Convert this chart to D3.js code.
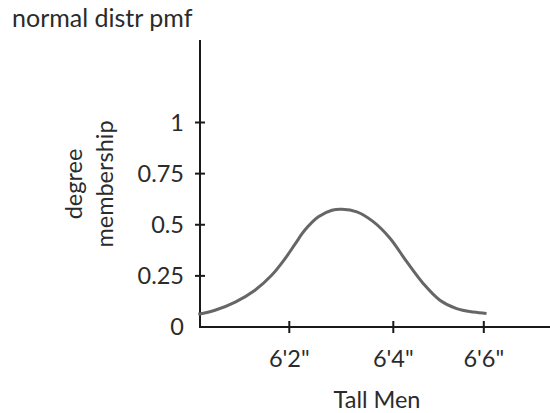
<!DOCTYPE html>
<html>
<head>
<meta charset="utf-8">
<script src="https://cdn.jsdelivr.net/npm/d3@7"></script>
<style>
  html, body { margin: 0; padding: 0; background: #fff; }
  svg { display: block; }
  text { font-family: Lato, "Open Sans", sans-serif; fill: #2b2b2b; }
</style>
</head>
<body>
<svg id="chart" width="550" height="413"></svg>
<script>
// Heights in inches, with membership degree along the curve
const heights = [72.25, 72.57, 72.96, 73.34, 73.66, 73.92, 74.11, 74.30, 74.56, 74.82,
                 75.01, 75.30, 75.62, 75.94, 76.30, 76.66, 77.03, 77.40, 77.77, 78.06];
const membership = [0.062, 0.082, 0.122, 0.180, 0.253, 0.335, 0.405, 0.474, 0.539, 0.571,
                    0.576, 0.563, 0.514, 0.433, 0.318, 0.213, 0.131, 0.090, 0.073, 0.066];

const xTickValues = [74, 76, 78];
const xTickLabels = ["6'2\"", "6'4\"", "6'6\""];
const yTickValues = [0, 0.25, 0.5, 0.75, 1];
const yTickLabels = ["0", "0.25", "0.5", "0.75", "1"];

const titleText = "normal distr pmf";
const xTitle = "Tall Men";
const yTitleLines = ["degree", "membership"];

const svg = d3.select("#chart");

const origin = { x: 200, y: 327 };
const axisTop = 40;
const axisRight = 550;
const fontSize = 23.5;

// piecewise height scale: the inch spacing is not uniform along the axis
const x = d3.scaleLinear()
  .domain([74, 76, 78])
  .range([289.3, 393.3, 483.8]);

const y = d3.scaleLinear()
  .domain([0, 1])
  .range([origin.y, 122.5]);

// title
svg.append("text")
  .attr("x", 12)
  .attr("y", 27)
  .attr("font-size", 25)
  .text(titleText);

// axis lines
svg.append("line")
  .attr("x1", origin.x).attr("x2", origin.x)
  .attr("y1", axisTop).attr("y2", origin.y + 1)
  .attr("stroke", "#1a1a1a").attr("stroke-width", 2);
svg.append("line")
  .attr("x1", origin.x - 1).attr("x2", axisRight)
  .attr("y1", origin.y).attr("y2", origin.y)
  .attr("stroke", "#1a1a1a").attr("stroke-width", 2);

// y ticks: short marks crossing the axis, labels to the left
const yg = svg.append("g");
yg.selectAll("line")
  .data(yTickValues.slice(1))
  .join("line")
  .attr("x1", origin.x - 5).attr("x2", origin.x + 5)
  .attr("y1", (d) => y(d)).attr("y2", (d) => y(d))
  .attr("stroke", "#1a1a1a").attr("stroke-width", 2);
yg.selectAll("text")
  .data(yTickValues)
  .join("text")
  .attr("x", 184)
  .attr("y", (d) => y(d))
  .attr("dy", "0.36em")
  .attr("text-anchor", "end")
  .attr("font-size", fontSize)
  .text((d, i) => yTickLabels[i]);

// x ticks
const xg = svg.append("g");
xg.selectAll("line")
  .data(xTickValues)
  .join("line")
  .attr("x1", (d) => x(d)).attr("x2", (d) => x(d))
  .attr("y1", origin.y - 6).attr("y2", origin.y + 6)
  .attr("stroke", "#1a1a1a").attr("stroke-width", 2);
xg.selectAll("text")
  .data(xTickValues)
  .join("text")
  .attr("x", (d) => x(d))
  .attr("y", 367)
  .attr("text-anchor", "middle")
  .attr("font-size", fontSize)
  .text((d, i) => xTickLabels[i]);

// axis titles
svg.append("text")
  .attr("x", 377)
  .attr("y", 408)
  .attr("text-anchor", "middle")
  .attr("font-size", fontSize)
  .text(xTitle);

const yt = svg.append("text")
  .attr("transform", "translate(0,184) rotate(-90)")
  .attr("text-anchor", "middle")
  .attr("font-size", fontSize);
yt.selectAll("tspan")
  .data(yTitleLines)
  .join("tspan")
  .attr("x", 0)
  .attr("y", (d, i) => 82 + i * 31)
  .text((d) => d);

// membership curve
const line = d3.line()
  .x((d, i) => x(heights[i]))
  .y((d) => y(d))
  .curve(d3.curveCatmullRom.alpha(0.5));

svg.append("path")
  .datum(membership)
  .attr("d", line)
  .attr("fill", "none")
  .attr("stroke", "#666")
  .attr("stroke-width", 3);
</script>
</body>
</html>
